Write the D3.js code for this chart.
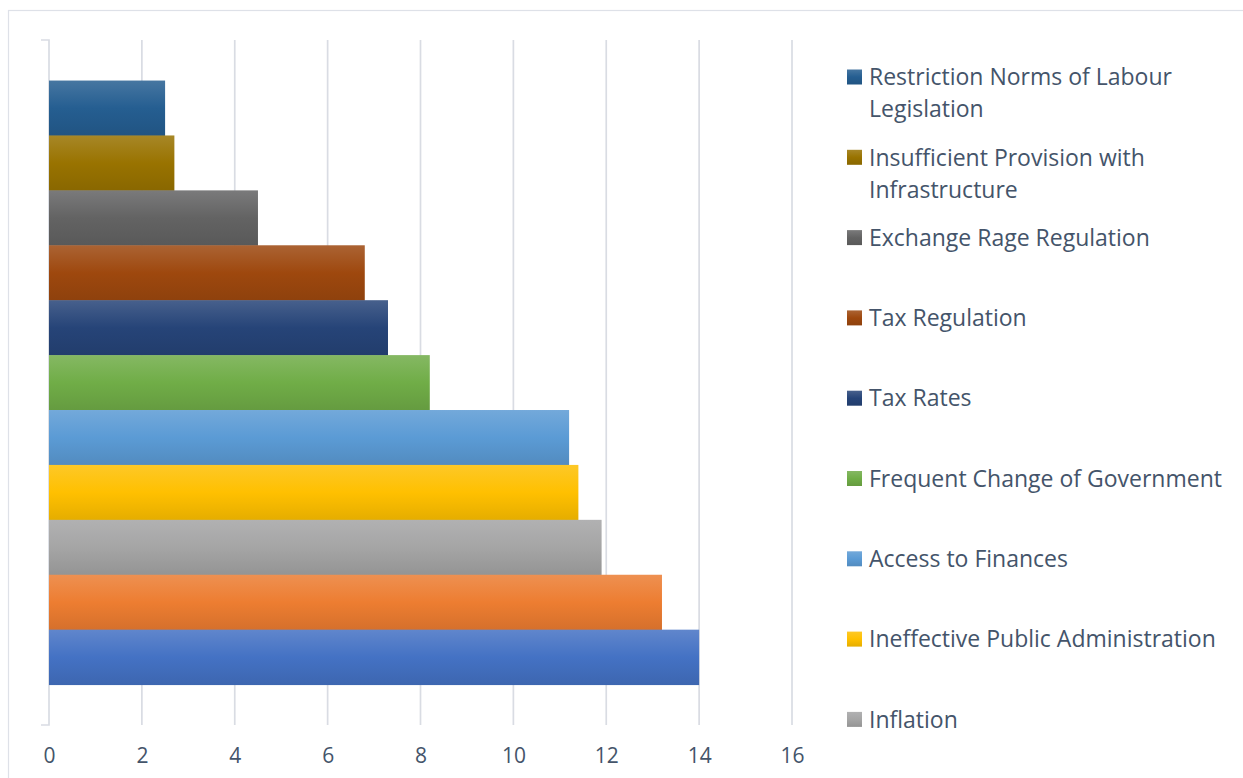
<!DOCTYPE html>
<html>
<head>
<meta charset="utf-8">
<script src="https://cdn.jsdelivr.net/npm/d3@7"></script>
<style>
  html, body { margin: 0; padding: 0; background: #ffffff; }
  svg { display: block; }
</style>
</head>
<body>
<svg id="chart" width="1243" height="778"></svg>
<script>
// Obstacles to doing business, share of respondents (%)
const barValues = [2.5, 2.7, 4.5, 6.8, 7.3, 8.2, 11.2, 11.4, 11.9, 13.2, 14.0];
const barColors = ["#255E91", "#997300", "#636363", "#9E480E", "#264478", "#70AD47",
                   "#5B9BD5", "#FFC000", "#A5A5A5", "#ED7D31", "#4472C4"];
// Legend entries (the legend box shows the first nine series), with line breaks
const legendLabels = [
  ["Restriction Norms of Labour", "Legislation"],
  ["Insufficient Provision with", "Infrastructure"],
  ["Exchange Rage Regulation"],
  ["Tax Regulation"],
  ["Tax Rates"],
  ["Frequent Change of Government"],
  ["Access to Finances"],
  ["Ineffective Public Administration"],
  ["Inflation"]
];
const xTicks = [0, 2, 4, 6, 8, 10, 12, 14, 16];

const W = 1243, H = 778;
const textColor = "#44546A";
const gridColor = "#D9DCE3";
const fontFamily = "'Open Sans', 'DejaVu Sans', sans-serif";
const tickFontSize = 21;
const legendFontSize = 23;

const svg = d3.select("#chart");

// outer chart frame (right and bottom edges run past the page)
svg.append("rect")
  .attr("x", 8.5).attr("y", 10.5)
  .attr("width", W + 20).attr("height", H + 20)
  .attr("fill", "#fff").attr("stroke", "#DEE1E8").attr("stroke-width", 1.2);

// gradient fills, one per series: light top, base middle, shaded bottom
const defs = svg.append("defs");
barColors.forEach((c, i) => {
  const top = d3.interpolateRgb(c, "#F2F2F6")(0.16);
  const bottom = d3.color(c).darker(0.3).formatHex();
  const g = defs.append("linearGradient")
    .attr("id", "grad" + i)
    .attr("x1", 0).attr("y1", 0).attr("x2", 0).attr("y2", 1);
  g.append("stop").attr("offset", "0%").attr("stop-color", top);
  g.append("stop").attr("offset", "50%").attr("stop-color", c);
  g.append("stop").attr("offset", "100%").attr("stop-color", bottom);
});

// scales
const plotTop = 40, plotBottom = 722;
const x = d3.scaleLinear().domain([0, 16]).range([49, 792]);
const y = d3.scaleBand()
  .domain(d3.range(barValues.length))
  .range([plotTop, plotBottom])
  .paddingInner(0)
  .paddingOuter(0.71)
  .align(0.52);

// vertical gridlines
svg.append("g")
  .selectAll("line")
  .data(xTicks.filter(t => t > 0))
  .join("line")
  .attr("x1", d => x(d)).attr("x2", d => x(d))
  .attr("y1", plotTop).attr("y2", plotBottom + 3)
  .attr("stroke", gridColor).attr("stroke-width", 1.7);

// left category axis with end ticks
svg.append("path")
  .attr("d", `M${x(0) - 8},${plotTop}H${x(0)}V${plotBottom + 3}H${x(0) - 8}`)
  .attr("fill", "none").attr("stroke", gridColor).attr("stroke-width", 1.7);

// bars
svg.append("g")
  .selectAll("rect")
  .data(barValues)
  .join("rect")
  .attr("x", x(0))
  .attr("y", (d, i) => y(i))
  .attr("width", d => x(d) - x(0))
  .attr("height", y.bandwidth() + 0.5)
  .attr("fill", (d, i) => `url(#grad${i})`);

// x axis labels
const xAxis = d3.axisBottom(x).tickValues(xTicks).tickSize(0).tickPadding(0);
const xg = svg.append("g")
  .attr("transform", `translate(0, ${plotBottom + 26})`)
  .call(xAxis);
xg.select(".domain").remove();
xg.selectAll("text")
  .attr("fill", textColor)
  .attr("font-family", fontFamily)
  .attr("font-size", tickFontSize)
  .attr("dy", "0.71em");

// legend
const legendX = 847, legendY0 = 77, legendStep = 80.3, lineH = 32;
const lg = svg.append("g");
legendLabels.forEach((lines, i) => {
  const cy = legendY0 + i * legendStep;
  lg.append("rect")
    .attr("x", legendX).attr("y", cy - 7.5)
    .attr("width", 15).attr("height", 15)
    .attr("fill", `url(#grad${i})`);
  const t = lg.append("text")
    .attr("x", legendX + 22)
    .attr("y", cy)
    .attr("fill", textColor)
    .attr("font-family", fontFamily)
    .attr("font-size", legendFontSize);
  lines.forEach((ln, j) => {
    t.append("tspan")
      .attr("x", legendX + 22)
      .attr("dy", j === 0 ? "0.36em" : lineH)
      .text(ln);
  });
});
</script>
</body>
</html>
